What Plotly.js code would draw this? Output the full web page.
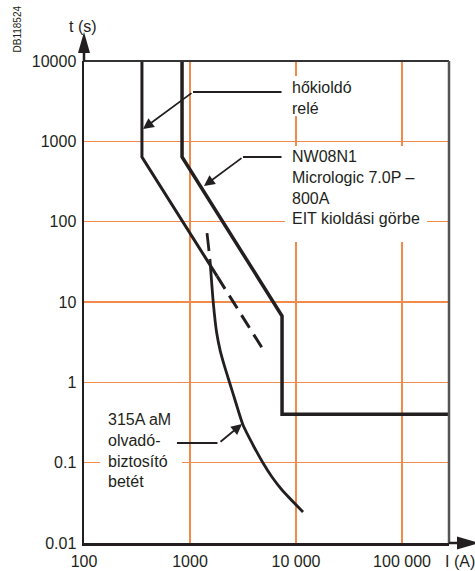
<!DOCTYPE html>
<html><head><meta charset="utf-8">
<script src="https://cdn.plot.ly/plotly-3.0.1.min.js"></script>
<style>html,body{margin:0;padding:0;background:#fff;}#chart{width:475px;height:571px;}</style>
</head><body><div id="chart"></div>
<script>
// ---- data ----
const releX = [352, 352, 1800];
const releY = [10000, 638, 21];
const releDashX = [1800, 5200];
const releDashY = [21, 2.25];
const nwX = [841, 841, 7380, 7380, 300000];
const nwY = [10000, 638, 6.7, 0.40, 0.40];
const fuseDashX = [1447, 1544];
const fuseDashY = [72, 33.3];
const fuseX = [1544, 1659, 1786, 1931, 2139, 2385, 2658, 3162, 3929, 4884, 5935, 7379, 11641];
const fuseY = [33.3, 9.71, 4.11, 2.45, 1.51, 0.953, 0.602, 0.294, 0.166, 0.099, 0.0663, 0.0457, 0.0243];
const xTickVals = [100, 1000, 10000, 100000];
const xTickText = ['100', '1000', '10 000', '100 000'];
const yTickVals = [0.01, 0.1, 1, 10, 100, 1000, 10000];
const yTickText = ['0.01', '0.1', '1', '10', '100', '1000', '10000'];
const labelRele = 'hőkioldó<br>relé';
const labelNW = 'NW08N1<br>Micrologic 7.0P –<br>800A<br>EIT kioldási görbe';
const labelFuse = '315A aM<br>olvadó-<br>biztosító<br>betét';

// ---- geometry helpers (layout only) ----
const W = 475, H = 571, L = 84, R = 26, T = 61, B = 28;
const pw = W - L - R, ph = H - T - B;
const px = a => (a - L) / pw;
const py = b => (H - B - b) / ph;
const pathPx = pts => 'M' + pts.map(p => px(p[0]) + ',' + py(p[1])).join('L') + 'Z';
const lg = Math.log10;

const ink = '#231f20';
const orange = '#F28A4C';
const FONT = '"Liberation Sans", Arial, Helvetica, sans-serif';

const data = [
  {x: releX, y: releY, mode: 'lines', line: {color: ink, width: 3}, hoverinfo: 'skip'},
  {x: releDashX, y: releDashY, mode: 'lines', line: {color: ink, width: 3, dash: '15px,8px'}, hoverinfo: 'skip'},
  {x: nwX, y: nwY, mode: 'lines', line: {color: ink, width: 3.5}, hoverinfo: 'skip'},
  {x: fuseDashX, y: fuseDashY, mode: 'lines', line: {color: ink, width: 2.8, dash: '18px,8px'}, hoverinfo: 'skip'},
  {x: fuseX, y: fuseY, mode: 'lines', line: {color: ink, width: 2.8, shape: 'spline', smoothing: 0.6}, hoverinfo: 'skip'}
];

function leader(xl, yl, ax, ay, head) {
  return {xref: 'x', yref: 'y', x: xl, y: yl, ax: ax, ay: ay, text: '', showarrow: true,
          arrowhead: head, arrowsize: 1.2, arrowwidth: 1.8, arrowcolor: ink, standoff: 0};
}

const annotations = [
  {xref: 'paper', yref: 'paper', x: px(290), y: py(98), xanchor: 'left', yanchor: 'middle', align: 'left',
   text: labelRele, showarrow: false, font: {size: 16, color: ink}},
  {xref: 'paper', yref: 'paper', x: px(290), y: py(187), xanchor: 'left', yanchor: 'middle', align: 'left',
   text: labelNW, showarrow: false, font: {size: 16, color: ink}},
  {xref: 'paper', yref: 'paper', x: px(106), y: py(450), xanchor: 'left', yanchor: 'middle', align: 'left',
   text: labelFuse, showarrow: false, font: {size: 16, color: ink}},
  // leaders
  leader(lg(1067), 3.614, 90, 0, 0),
  leader(lg(360), 3.1535, 50, -37, 2),
  leader(lg(3162), 2.805, 40, 0, 0),
  leader(lg(1355), 2.444, 39, -29, 2),
  leader(lg(753), -0.755, 42, 0, 0),
  leader(lg(3095), -0.519, -23, 19, 2),
  // axis titles and id
  {xref: 'paper', yref: 'paper', x: px(83), y: py(26), xanchor: 'center', yanchor: 'middle',
   text: 't (s)', showarrow: false, font: {size: 16, color: ink}},
  {xref: 'paper', yref: 'paper', x: px(443), y: py(561), xanchor: 'left', yanchor: 'middle',
   text: 'I (A)', showarrow: false, font: {size: 16, color: ink}},
  {xref: 'paper', yref: 'paper', x: px(16.5), y: py(29), xanchor: 'center', yanchor: 'middle', textangle: -90,
   text: 'DB118524', showarrow: false, font: {size: 10, color: ink}}
];

const shapes = [
  // white backgrounds behind label text (break the grid lines)
  {type: 'rect', xref: 'paper', yref: 'paper', x0: px(286), x1: px(358), y0: py(76), y1: py(116),
   fillcolor: '#fff', line: {width: 0}, layer: 'above'},
  {type: 'rect', xref: 'paper', yref: 'paper', x0: px(285), x1: px(427), y0: py(146), y1: py(242),
   fillcolor: '#fff', line: {width: 0}, layer: 'above'},
  {type: 'rect', xref: 'paper', yref: 'paper', x0: px(100), x1: px(182), y0: py(404), y1: py(492),
   fillcolor: '#fff', line: {width: 0}, layer: 'above'},
  // top & right frame
  {type: 'line', xref: 'paper', yref: 'paper', x0: 0, x1: 1, y0: 1, y1: 1, line: {color: '#333', width: 2}},
  {type: 'line', xref: 'paper', yref: 'paper', x0: 1, x1: 1, y0: 0, y1: 1, line: {color: '#555', width: 2.5}},
  // axis arrows
  {type: 'line', xref: 'paper', yref: 'paper', x0: px(84), x1: px(84), y0: py(61), y1: py(48), line: {color: ink, width: 2.5}},
  {type: 'path', xref: 'paper', yref: 'paper', path: pathPx([[78, 53], [84, 32], [90, 53]]), fillcolor: ink, line: {width: 0}},
  {type: 'line', xref: 'paper', yref: 'paper', x0: px(449), x1: px(462), y0: py(543), y1: py(543), line: {color: ink, width: 2.5}},
  {type: 'path', xref: 'paper', yref: 'paper', path: pathPx([[457, 536.5], [479, 543], [457, 549.5]]), fillcolor: ink, line: {width: 0}}
];

const layout = {
  width: W, height: H, margin: {l: L, r: R, t: T, b: B, pad: 0},
  paper_bgcolor: '#fff', plot_bgcolor: '#fff', showlegend: false,
  font: {family: FONT, size: 16, color: ink},
  xaxis: {type: 'log', range: [2, 5.443], tickmode: 'array', tickvals: xTickVals, ticktext: xTickText,
          showgrid: true, gridcolor: orange, gridwidth: 1.3, zeroline: false,
          showline: true, linecolor: ink, linewidth: 2.5, ticks: '', ticklabelstandoff: 2,
          tickfont: {family: FONT, size: 16, color: ink}, fixedrange: true},
  yaxis: {type: 'log', range: [-2, 4], tickmode: 'array', tickvals: yTickVals, ticktext: yTickText,
          showgrid: true, gridcolor: orange, gridwidth: 1.6, zeroline: false,
          showline: true, linecolor: ink, linewidth: 2.5, ticks: '', ticklabelstandoff: 2,
          tickfont: {family: FONT, size: 16, color: ink}, fixedrange: true},
  annotations: annotations,
  shapes: shapes
};

Plotly.newPlot('chart', data, layout, {staticPlot: true, displayModeBar: false});
</script>
</body></html>
